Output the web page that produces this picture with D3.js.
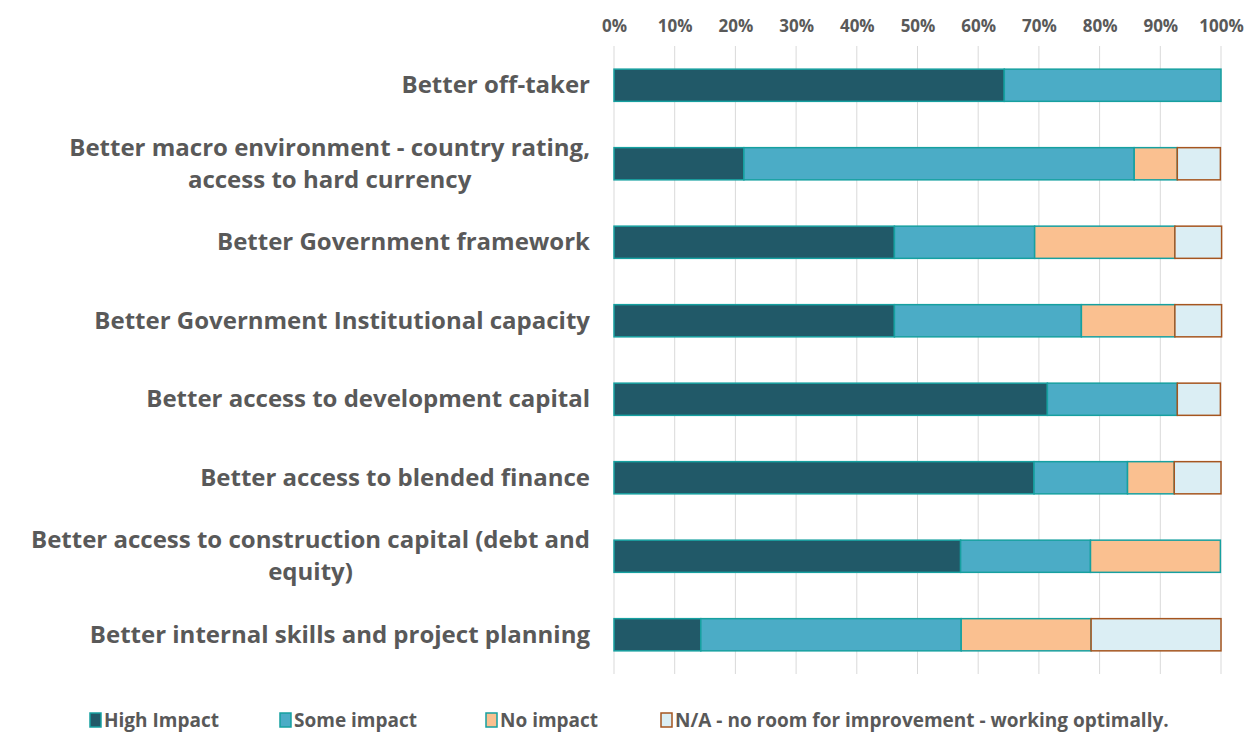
<!DOCTYPE html>
<html><head><meta charset="utf-8">
<script src="https://cdn.jsdelivr.net/npm/d3@7"></script>
<style>
html,body{margin:0;padding:0;background:#fff;}
svg text{font-family:"Open Sans","Lato",sans-serif;font-weight:bold;fill:#595959;}
</style></head>
<body><svg id="c" width="1255" height="735"></svg>
<script>
const categories = [
  ["Better off-taker"],
  ["Better macro environment - country rating,", "access to hard currency"],
  ["Better Government framework"],
  ["Better Government Institutional capacity"],
  ["Better access to development capital"],
  ["Better access to blended finance"],
  ["Better access to construction capital (debt and", "equity)"],
  ["Better internal skills and project planning"]
];
const seriesNames = ["High Impact", "Some impact", "No impact", "N/A - no room for improvement - working optimally."];
const highImpact = [64.3, 21.4, 46.2, 46.2, 71.4, 69.2, 57.1, 14.3];
const someImpact = [35.7, 64.3, 23.1, 30.8, 21.4, 15.4, 21.4, 42.9];
const noImpact   = [0, 7.1, 23.1, 15.4, 0, 7.7, 21.4, 21.4];
const naImpact   = [0, 7.1, 7.7, 7.7, 7.1, 7.7, 0, 21.4];
const tickValues = [0,10,20,30,40,50,60,70,80,90,100];

const fills = ["#215968", "#4BACC6", "#FAC090", "#DBEEF4"];
const strokes = ["#16A0A0", "#16A0A0", "#16A0A0", "#A5551F"];

const svg = d3.select("#c");
const pLeft = 614, pRight = 1221, pTop = 46, pBottom = 674;
const x = d3.scaleLinear().domain([0,100]).range([pLeft, pRight]);
const y = d3.scaleBand().domain(d3.range(categories.length)).range([pTop, pBottom]).paddingInner(0.59).paddingOuter(0.295);

// grid
svg.append("g").selectAll("line").data(tickValues).join("line")
  .attr("x1", d => x(d)).attr("x2", d => x(d))
  .attr("y1", pTop).attr("y2", pBottom)
  .attr("stroke", "#D9D9D9").attr("stroke-width", 1);

// top axis labels
const ax = svg.append("g").attr("transform", `translate(0,${pTop})`)
  .call(d3.axisTop(x).tickValues(tickValues).tickFormat(d => d + "%").tickSize(0).tickPadding(14));
ax.select(".domain").remove();
ax.selectAll("text").attr("font-size", 17).attr("fill", "#595959")
  .style("font-family", "'Open Sans', Lato, sans-serif").style("font-weight", "bold");

// stacked data
const data = categories.map((c, i) => ({i, vals: [highImpact[i], someImpact[i], noImpact[i], naImpact[i]]}));
const stackKeys = [0,1,2,3];
const stacked = d3.stack().keys(stackKeys).value((d, k) => d.vals[k])(data);

svg.append("g").selectAll("g").data(stacked).join("g")
  .attr("fill", (d, k) => fills[k]).attr("stroke", (d, k) => strokes[k]).attr("stroke-width", 1.5)
  .selectAll("rect").data(d => d.filter(s => s[1] - s[0] > 0)).join("rect")
  .attr("x", d => x(d[0])).attr("width", d => x(d[1]) - x(d[0]))
  .attr("y", d => y(d.data.i)).attr("height", y.bandwidth());

// category labels
const lab = svg.append("g");
categories.forEach((lines, i) => {
  const cy = y(i) + y.bandwidth() / 2;
  const lh = 32;
  const t = lab.append("text").attr("text-anchor", "end").attr("font-size", 24);
  lines.forEach((ln, j) => {
    t.append("tspan").attr("x", 590)
      .attr("y", cy + (j - (lines.length - 1) / 2) * lh + 8).text(ln);
  });
  if (lines.length === 2) {
    const first = t.select("tspan").node();
    const w = first.getComputedTextLength();
    t.selectAll("tspan").filter((d, j) => j === 1).attr("x", 590 - w / 2).attr("text-anchor", "middle");
  }
});

// legend
const legendX = [90, 280, 486, 661];
const lg = svg.append("g");
seriesNames.forEach((n, k) => {
  lg.append("rect").attr("x", legendX[k]).attr("y", 713).attr("width", 11).attr("height", 14)
    .attr("fill", fills[k]).attr("stroke", strokes[k]).attr("stroke-width", 1.5);
  lg.append("text").attr("x", legendX[k] + 14).attr("y", 727).attr("font-size", 19).text(n);
});
</script></body></html>
